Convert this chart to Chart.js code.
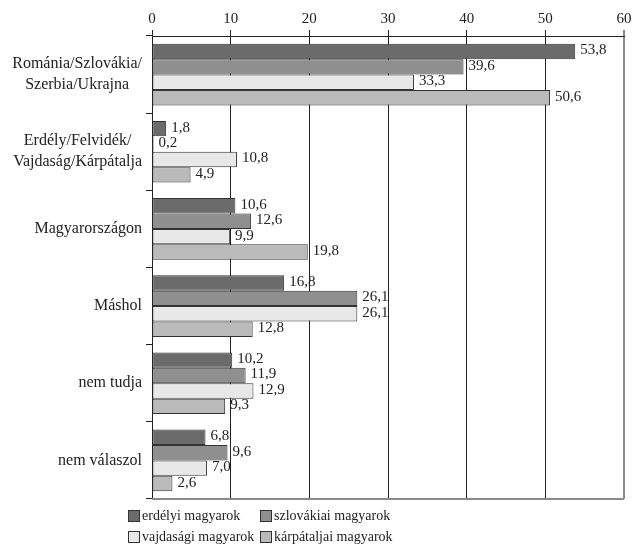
<!DOCTYPE html>
<html>
<head>
<meta charset="utf-8">
<script src="https://cdn.jsdelivr.net/npm/chart.js@4/dist/chart.umd.min.js"></script>
<style>
  html, body { margin: 0; padding: 0; background: #fff; }
  #wrap { width: 635px; height: 546px; }
</style>
</head>
<body>
<div id="wrap"><canvas id="myChart" width="635" height="546"></canvas></div>
<script>
const categories = [
  ["Románia/Szlovákia/", "Szerbia/Ukrajna"],
  ["Erdély/Felvidék/", "Vajdaság/Kárpátalja"],
  ["Magyarországon"],
  ["Máshol"],
  ["nem tudja"],
  ["nem válaszol"],
];
const seriesNames = ["erdélyi magyarok", "szlovákiai magyarok", "vajdasági magyarok", "kárpátaljai magyarok"];
const erdelyi = [53.8, 1.8, 10.6, 16.8, 10.2, 6.8];
const szlovakiai = [39.6, 0.2, 12.6, 26.1, 11.9, 9.6];
const vajdasagi = [33.3, 10.8, 9.9, 26.1, 12.9, 7.0];
const karpataljai = [50.6, 4.9, 19.8, 12.8, 9.3, 2.6];
const colors = ["#6b6b6b", "#8f8f8f", "#e8e8e8", "#bababa"];
const xTicks = [0, 10, 20, 30, 40, 50, 60];

const serif = "'Liberation Serif', 'DejaVu Serif', serif";

// value labels at the end of the bars
const valueLabels = {
  id: "valueLabels",
  afterDatasetsDraw(chart) {
    const ctx = chart.ctx;
    ctx.save();
    ctx.font = "15px " + serif;
    ctx.fillStyle = "#222";
    ctx.textBaseline = "middle";
    chart.data.datasets.forEach((ds, i) => {
      chart.getDatasetMeta(i).data.forEach((bar, j) => {
        const txt = ds.data[j].toFixed(1).replace(".", ",");
        ctx.fillText(txt, bar.x + 5, bar.y - 1);
      });
    });
    ctx.restore();
  },
};

// category labels: block right aligned, lines centred inside the block
const categoryLabels = {
  id: "categoryLabels",
  afterDraw(chart) {
    const ctx = chart.ctx;
    const y = chart.scales.y;
    ctx.save();
    ctx.font = "16px " + serif;
    ctx.fillStyle = "#222";
    ctx.textBaseline = "middle";
    ctx.textAlign = "center";
    const lh = 21;
    chart.data.labels.forEach((lines, i) => {
      const w = Math.max(...lines.map((l) => ctx.measureText(l).width));
      const cx = y.right - 10 - w / 2;
      const cy = y.getPixelForTick(i) - ((lines.length - 1) * lh) / 2;
      lines.forEach((l, k) => ctx.fillText(l, cx, cy + k * lh));
    });
    ctx.restore();
  },
};

// gray frame on the bottom and legend in two columns
const frameAndLegend = {
  id: "frameAndLegend",
  afterDraw(chart) {
    const ctx = chart.ctx;
    const a = chart.chartArea;
    ctx.save();
    ctx.strokeStyle = "#8a8a8a";
    ctx.lineWidth = 2;
    ctx.beginPath();
    ctx.moveTo(a.left, a.bottom);
    ctx.lineTo(a.right, a.bottom);
    ctx.stroke();

    ctx.font = "14px " + serif;
    ctx.textBaseline = "middle";
    const pos = [[128, 516], [260, 516], [128, 537], [260, 537]];
    chart.data.datasets.forEach((ds, i) => {
      const [x, y] = pos[i];
      ctx.fillStyle = ds.backgroundColor;
      ctx.fillRect(x, y - 6, 11, 11);
      ctx.strokeStyle = "#333";
      ctx.lineWidth = 1;
      ctx.strokeRect(x + 0.5, y - 5.5, 11, 11);
      ctx.fillStyle = "#222";
      ctx.fillText(ds.label, x + 14, y);
    });
    ctx.restore();
  },
};

const ctx = document.getElementById("myChart");

new Chart(ctx, {
  type: "bar",
  data: {
    labels: categories,
    datasets: [erdelyi, szlovakiai, vajdasagi, karpataljai].map((d, i) => ({
      label: seriesNames[i],
      data: d,
      backgroundColor: colors[i],
      borderColor: "#333",
      borderWidth: 1,
      borderSkipped: false,
      categoryPercentage: 0.8,
      barPercentage: 1.0,
    })),
  },
  options: {
    indexAxis: "y",
    responsive: false,
    animation: false,
    layout: { padding: { left: 0, top: 0, right: 11, bottom: 47 } },
    plugins: {
      legend: { display: false },
      tooltip: { enabled: false },
    },
    scales: {
      x: {
        position: "top",
        min: 0,
        max: 60,
        afterFit(scale) { scale.height = 36; },
        afterBuildTicks(scale) { scale.ticks = xTicks.map((v) => ({ value: v })); },
        ticks: {
          color: "#222",
          font: { family: serif, size: 15 },
          padding: 2,
        },
        grid: {
          color: (c) => (c.tick && c.tick.value === 60 ? "#8a8a8a" : "#222"),
          lineWidth: (c) => (c.tick && c.tick.value === 60 ? 2 : 1),
          tickLength: 6,
          drawTicks: true,
        },
        border: { color: "#222", width: 1 },
      },
      y: {
        afterFit(scale) { scale.width = 152; },
        ticks: { display: false },
        grid: {
          drawOnChartArea: false,
          color: "#222",
          tickLength: 6,
          offset: true,
        },
        border: { color: "#222", width: 1 },
      },
    },
  },
  plugins: [valueLabels, categoryLabels, frameAndLegend],
});
</script>
</body>
</html>
